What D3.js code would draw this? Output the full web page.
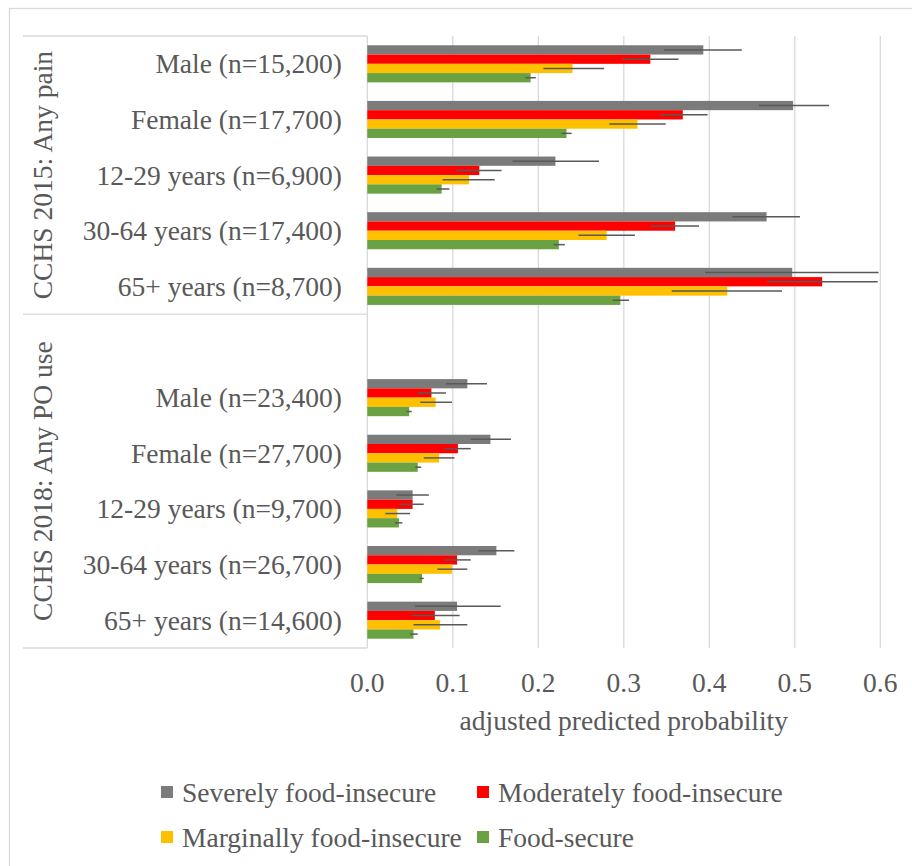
<!DOCTYPE html>
<html>
<head>
<meta charset="utf-8">
<script src="https://cdn.jsdelivr.net/npm/d3@7"></script>
<style>
  html, body { margin: 0; padding: 0; background: #fff; }
  svg { display: block; }
</style>
</head>
<body>
<svg id="chart" width="912" height="866"></svg>
<script>
// ---- data ----
const groupNames = ["CCHS 2015: Any pain", "CCHS 2018: Any PO use"];
const categories = [
  "Male (n=15,200)", "Female (n=17,700)", "12-29 years (n=6,900)", "30-64 years (n=17,400)", "65+ years (n=8,700)",
  "Male (n=23,400)", "Female (n=27,700)", "12-29 years (n=9,700)", "30-64 years (n=26,700)", "65+ years (n=14,600)"
];
const categoryGroup = [0, 0, 0, 0, 0, 1, 1, 1, 1, 1];
const seriesNames = ["Severely food-insecure", "Moderately food-insecure", "Marginally food-insecure", "Food-secure"];
const seriesColors = ["#7b7b7b", "#ff0000", "#ffc000", "#6aa243"];

const severe     = [0.393, 0.498, 0.220, 0.467, 0.497, 0.117, 0.144, 0.053, 0.151, 0.105];
const severeLo   = [0.347, 0.458, 0.170, 0.427, 0.395, 0.092, 0.121, 0.034, 0.130, 0.056];
const severeHi   = [0.438, 0.540, 0.271, 0.506, 0.598, 0.140, 0.168, 0.072, 0.172, 0.156];

const moderate   = [0.331, 0.369, 0.131, 0.360, 0.532, 0.075, 0.106, 0.053, 0.105, 0.079];
const moderateLo = [0.298, 0.343, 0.104, 0.331, 0.467, 0.059, 0.090, 0.037, 0.091, 0.052];
const moderateHi = [0.364, 0.398, 0.157, 0.388, 0.597, 0.092, 0.121, 0.066, 0.121, 0.108];

const marginal   = [0.240, 0.316, 0.119, 0.280, 0.421, 0.080, 0.084, 0.035, 0.099, 0.085];
const marginalLo = [0.206, 0.283, 0.088, 0.247, 0.356, 0.062, 0.066, 0.021, 0.082, 0.054];
const marginalHi = [0.277, 0.349, 0.149, 0.313, 0.485, 0.099, 0.102, 0.050, 0.117, 0.117];

const secure     = [0.191, 0.233, 0.087, 0.224, 0.296, 0.049, 0.059, 0.037, 0.064, 0.054];
const secureLo   = [0.185, 0.227, 0.081, 0.218, 0.287, 0.046, 0.056, 0.032, 0.061, 0.050];
const secureHi   = [0.197, 0.239, 0.096, 0.231, 0.306, 0.052, 0.063, 0.041, 0.066, 0.059];

const xTicks = [0.0, 0.1, 0.2, 0.3, 0.4, 0.5, 0.6];
const xTitle = "adjusted predicted probability";

// ---- build ----
const seriesValues = [severe, moderate, marginal, secure];
const seriesLo = [severeLo, moderateLo, marginalLo, secureLo];
const seriesHi = [severeHi, moderateHi, marginalHi, secureHi];

const slots = [];
categories.forEach((c, i) => {
  if (i > 0 && categoryGroup[i] !== categoryGroup[i - 1]) slots.push("blank-" + categoryGroup[i]);
  slots.push("cat-" + i);
});

const FAMILY = "Liberation Serif";
const svg = d3.select("#chart");
const FONT = 27.5;
const TXT = "#595959";
const plot = { left: 367.3, right: 880.3, top: 36, bottom: 648 };

function styleText(sel) {
  return sel.attr("font-family", FAMILY).attr("font-size", FONT).attr("fill", TXT);
}

const x = d3.scaleLinear().domain([0, 0.6]).range([plot.left, plot.right]);
const y = d3.scaleBand().domain(slots).range([plot.top, plot.bottom]).padding(0);
const bw = y.bandwidth();
const ys = d3.scaleBand().domain(seriesNames).range([bw / 6, bw * 5 / 6]).padding(0);

// outer border
svg.append("rect").attr("x", 9.5).attr("y", 8.5).attr("width", 940).attr("height", 900)
  .attr("fill", "none").attr("stroke", "#d9d9d9").attr("stroke-width", 1.3);

// gridlines
svg.append("g").selectAll("line").data(xTicks.filter(t => t > 0)).join("line")
  .attr("x1", d => x(d)).attr("x2", d => x(d))
  .attr("y1", plot.top).attr("y2", plot.bottom)
  .attr("stroke", "#d9d9d9").attr("stroke-width", 1.3);

// category axis line
svg.append("line").attr("x1", plot.left).attr("x2", plot.left)
  .attr("y1", plot.top).attr("y2", plot.bottom)
  .attr("stroke", "#d9d9d9").attr("stroke-width", 1.3);

// group bounds
const groupBounds = groupNames.map((g, gi) => {
  const idx = slots.filter(s => {
    if (s.startsWith("blank-")) return +s.split("-")[1] === gi;
    return categoryGroup[+s.split("-")[1]] === gi;
  });
  return { name: g, y0: y(idx[0]), y1: y(idx[idx.length - 1]) + bw };
});
const sepYs = [groupBounds[0].y0, ...groupBounds.map(g => g.y1)];
svg.append("g").selectAll("line").data(sepYs).join("line")
  .attr("x1", 23).attr("x2", plot.left)
  .attr("y1", d => d).attr("y2", d => d)
  .attr("stroke", "#d9d9d9").attr("stroke-width", 1.3);

// group labels (rotated)
styleText(svg.append("g").selectAll("text").data(groupBounds).join("text"))
  .attr("transform", d => `translate(42,${(d.y0 + d.y1) / 2}) rotate(-90)`)
  .attr("text-anchor", "middle").attr("dominant-baseline", "central")
  .text(d => d.name);

// category labels
styleText(svg.append("g").selectAll("text").data(categories).join("text"))
  .attr("x", 342).attr("y", (d, i) => y("cat-" + i) + bw / 2)
  .attr("text-anchor", "end").attr("dominant-baseline", "central")
  .text(d => d);

// bars
seriesNames.forEach((s, si) => {
  svg.append("g").selectAll("rect").data(seriesValues[si]).join("rect")
    .attr("x", x(0))
    .attr("y", (d, i) => y("cat-" + i) + ys(s))
    .attr("width", d => x(d) - x(0))
    .attr("height", ys.bandwidth())
    .attr("fill", seriesColors[si]);
});

// error bars
seriesNames.forEach((s, si) => {
  svg.append("g").selectAll("line").data(seriesLo[si]).join("line")
    .attr("x1", d => x(d))
    .attr("x2", (d, i) => x(seriesHi[si][i]))
    .attr("y1", (d, i) => y("cat-" + i) + ys(s) + ys.bandwidth() / 2)
    .attr("y2", (d, i) => y("cat-" + i) + ys(s) + ys.bandwidth() / 2)
    .attr("stroke", "#595959").attr("stroke-width", 1.5);
});

// x tick labels
styleText(svg.append("g").selectAll("text").data(xTicks).join("text"))
  .attr("x", d => x(d)).attr("y", 682)
  .attr("text-anchor", "middle").attr("dominant-baseline", "central")
  .text(d => d3.format(".1f")(d));

styleText(svg.append("text"))
  .attr("x", (plot.left + plot.right) / 2).attr("y", 720)
  .attr("text-anchor", "middle").attr("dominant-baseline", "central")
  .text(xTitle);

// legend
const legendPos = [[161, 792], [477, 792], [161, 837], [477, 837]];
const lg = svg.append("g").selectAll("g").data(seriesNames).join("g")
  .attr("transform", (d, i) => `translate(${legendPos[i][0]},${legendPos[i][1]})`);
lg.append("rect").attr("x", 0).attr("y", -6).attr("width", 12).attr("height", 12)
  .attr("fill", (d, i) => seriesColors[i]);
styleText(lg.append("text"))
  .attr("x", 21).attr("y", 0)
  .attr("dominant-baseline", "central")
  .text(d => d);
</script>
</body>
</html>
